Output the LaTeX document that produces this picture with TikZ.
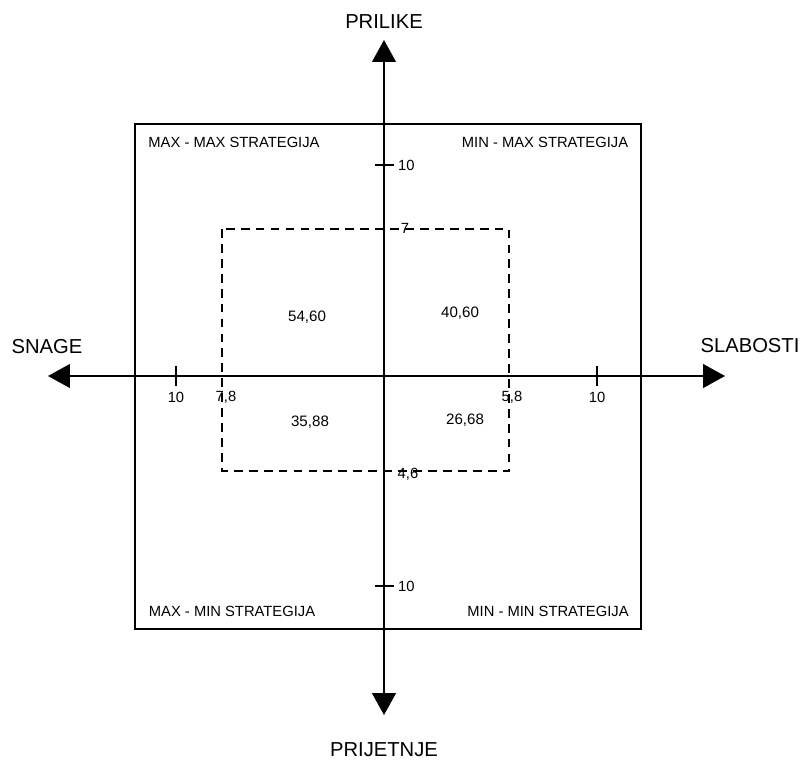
\documentclass[tikz,border=0pt]{standalone}
\usepackage{fontspec}
\setmainfont{Liberation Sans}
\usetikzlibrary{arrows.meta}
\usetikzlibrary{positioning}

\tikzset{
	axis/.style={line width=0.8pt, -{Triangle[width=13.6pt,length=12.5pt]}},
	axislabel/.style={font=\fontsize{11.5}{13}\selectfont},
	corner/.style={font=\fontsize{8.4}{10}\selectfont},
	value/.style={font=\fontsize{8.6}{10}\selectfont},
	tick/.style={font=\fontsize{8.4}{10}\selectfont, inner sep=1pt},
}

\begin{document}
\begin{tikzpicture}[x=0.02cm, y=-0.02cm]
		\useasboundingbox (0,0) rectangle (801,762);
		
		%axis ends
		\coordinate (origin) at (384,376);
		\coordinate (snageEnd) at (48,376);
		\coordinate (slabostiEnd) at (725,376);
		\coordinate (prilikeEnd) at (384,40);
		\coordinate (prijetnjeEnd) at (384,715);
		
		%outer box
		\draw [line width=0.8pt] (135,124) rectangle (641,629);
		
		%dashed box
		\draw [line width=0.7pt, dash pattern=on 5pt off 3.5pt] (222,229) rectangle (509,471);
		
		%draw axes
		\draw [axis] (origin) -- (snageEnd);
		\draw [axis] (origin) -- (slabostiEnd);
		\draw [axis] (origin) -- (prilikeEnd);
		\draw [axis] (origin) -- (prijetnjeEnd);
		
		%axis names
		\node[axislabel] (snage) at (47,347) {SNAGE};
		\node[axislabel] (slabosti) at (750,346) {SLABOSTI};
		\node[axislabel] (prilike) at (384,22) {PRILIKE};
		\node[axislabel] (prijetnje) at (384,750) {PRIJETNJE};
		
		%ticks
		\foreach \y in {165,586}
		\draw [line width=0.6pt] (375,\y) -- (394,\y);
		\foreach \x in {176,597}
		\draw [line width=0.6pt] (\x,366) -- (\x,386);
		
		%tick values
		\node[tick, anchor=west] (pTen) at (396,165) {10};
		\node[tick, anchor=west] (tTen) at (396,586) {10};
		\node[tick] (pSeven) at (405,228) {7};
		\node[tick] (tFour) at (408,474) {4,6};
		\node[tick] (sTen) at (176,397) {10};
		\node[tick] (wTen) at (597,397) {10};
		\node[tick] (sSeven) at (226,397) {7,8};
		\node[tick] (wFive) at (512,397) {5,8};
		
		%quadrant values
		\node[value] (q1) at (307,317) {54,60};
		\node[value] (q2) at (460,313) {40,60};
		\node[value] (q3) at (310,422) {35,88};
		\node[value] (q4) at (465,420) {26,68};
		
		%strategies
		\node[corner] (maxmax) at (234,142) {MAX - MAX STRATEGIJA};
		\node[corner] (minmax) at (545,142) {MIN - MAX STRATEGIJA};
		\node[corner] (maxmin) at (232,611) {MAX - MIN STRATEGIJA};
		\node[corner] (minmin) at (548,611) {MIN - MIN STRATEGIJA};
\end{tikzpicture}
\end{document}
